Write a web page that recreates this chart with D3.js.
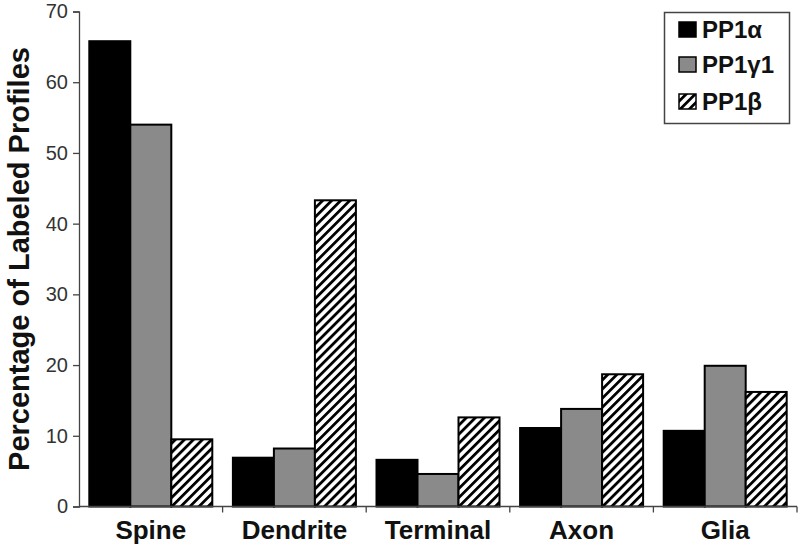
<!DOCTYPE html>
<html>
<head>
<meta charset="utf-8">
<script src="https://cdn.jsdelivr.net/npm/d3@7"></script>
<style>
  body { margin: 0; background: #fff; }
  svg { display: block; font-family: "Liberation Sans", Arial, sans-serif; }
</style>
</head>
<body>
<svg id="chart" width="800" height="549"></svg>
<script>
const categories = ["Spine", "Dendrite", "Terminal", "Axon", "Glia"];
const seriesNames = ["PP1α", "PP1γ1", "PP1β"];
const pp1Alpha = [65.8, 6.9, 6.6, 11.1, 10.7];
const pp1Gamma1 = [54.0, 8.2, 4.6, 13.8, 19.9];
const pp1Beta = [9.5, 43.3, 12.6, 18.7, 16.2];
const yTicks = [0, 10, 20, 30, 40, 50, 60, 70];
const yTitle = "Percentage of Labeled Profiles";

const seriesValues = [pp1Alpha, pp1Gamma1, pp1Beta];

const svg = d3.select("#chart");
const defs = svg.append("defs");
const pat = defs.append("pattern")
  .attr("id", "hatch")
  .attr("patternUnits", "userSpaceOnUse")
  .attr("width", 6.4).attr("height", 6.4)
  .attr("patternTransform", "rotate(45)");
pat.append("rect").attr("width", 6.4).attr("height", 6.4).attr("fill", "#fff");
pat.append("rect").attr("x", 0).attr("width", 2.8).attr("height", 6.4).attr("fill", "#000");

const fills = ["#000", "#8a8a8a", "url(#hatch)"];

const mLeft = 79, mRight = 797, mTop = 11.5, mBottom = 506.5;

const x0 = d3.scaleBand().domain(categories).range([mLeft, mRight]).padding(0);
const x1 = d3.scaleBand().domain(d3.range(3)).range([10.3, x0.bandwidth() - 10.3]).padding(0);
const y = d3.scaleLinear().domain([0, 70]).range([mBottom, mTop]);

// bars
const groups = svg.append("g").selectAll("g")
  .data(categories)
  .join("g")
  .attr("transform", d => `translate(${x0(d)},0)`);

groups.selectAll("rect")
  .data((c, ci) => seriesValues.map((vals, si) => ({ si, v: vals[ci] })))
  .join("rect")
  .attr("x", d => x1(d.si))
  .attr("y", d => y(d.v))
  .attr("width", x1.bandwidth())
  .attr("height", d => y(0) - y(d.v))
  .attr("fill", d => fills[d.si])
  .attr("stroke", "#000")
  .attr("stroke-width", 2);

// y axis
const yAxis = svg.append("g")
  .attr("transform", `translate(${mLeft},0)`)
  .call(d3.axisLeft(y).tickValues(yTicks).tickSize(6).tickPadding(5).tickFormat(d3.format("d")));
yAxis.select(".domain").attr("stroke", "#444").attr("stroke-width", 1.3);
yAxis.selectAll(".tick line").attr("stroke", "#444").attr("stroke-width", 1.3);
yAxis.selectAll(".tick text")
  .attr("font-size", 20).attr("fill", "#333")
  .attr("font-family", "'Liberation Sans', Arial, sans-serif");

// x axis
const xAxis = svg.append("g")
  .attr("transform", `translate(0,${mBottom})`);
xAxis.append("line")
  .attr("x1", mLeft).attr("x2", mRight)
  .attr("y1", 0).attr("y2", 0)
  .attr("stroke", "#444").attr("stroke-width", 1.3);
const boundaries = categories.map(c => x0(c) + x0.bandwidth());
xAxis.selectAll("line.tk")
  .data(boundaries)
  .join("line")
  .attr("class", "tk")
  .attr("x1", d => d).attr("x2", d => d)
  .attr("y1", 0).attr("y2", 6)
  .attr("stroke", "#444").attr("stroke-width", 1.3);
xAxis.selectAll("text")
  .data(categories)
  .join("text")
  .attr("x", d => x0(d) + x0.bandwidth() / 2)
  .attr("y", 32.5)
  .attr("text-anchor", "middle")
  .attr("font-size", 26)
  .attr("font-weight", "bold")
  .attr("fill", "#111")
  .text(d => d);

// y title
svg.append("text")
  .attr("transform", `translate(29,${(mTop + mBottom) / 2}) rotate(-90)`)
  .attr("text-anchor", "middle")
  .attr("font-size", 29)
  .attr("font-weight", "bold")
  .attr("fill", "#111")
  .text(yTitle);

// legend
const lg = svg.append("g");
lg.append("rect")
  .attr("x", 664.5).attr("y", 12.5)
  .attr("width", 125).attr("height", 111)
  .attr("fill", "#fff")
  .attr("stroke", "#444").attr("stroke-width", 1.5);
const rowBase = [38, 73, 110];
seriesNames.forEach((name, i) => {
  lg.append("rect")
    .attr("x", 679).attr("y", rowBase[i] - 16)
    .attr("width", 17).attr("height", 15)
    .attr("fill", fills[i])
    .attr("stroke", "#000").attr("stroke-width", 1.5);
  lg.append("text")
    .attr("x", 702).attr("y", rowBase[i])
    .attr("font-size", 24)
    .attr("font-weight", "bold")
    .attr("fill", "#111")
    .text(name);
});
</script>
</body>
</html>
